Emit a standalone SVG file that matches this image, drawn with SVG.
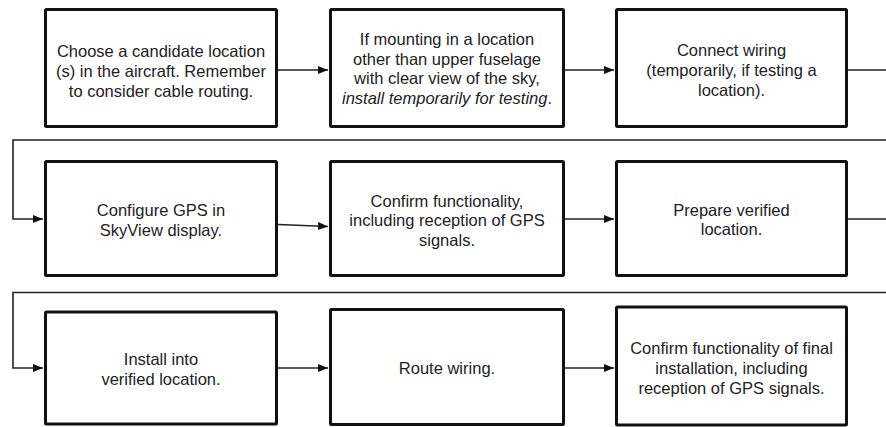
<svg xmlns="http://www.w3.org/2000/svg" width="886" height="427" viewBox="0 0 886 427">
<defs>
<style>
.box{fill:#fff;stroke:#111;stroke-width:3;}
.lbl{font-family:"Liberation Sans",Arial,sans-serif;font-size:16.5px;fill:#222;text-anchor:middle;}
.con{fill:none;stroke:#222;stroke-width:1.6;}
</style>
<marker id="ah" markerUnits="userSpaceOnUse" markerWidth="11" markerHeight="9" refX="10" refY="4" orient="auto">
<path d="M0,0 L10,4 L0,8 z" fill="#111"/>
</marker>
</defs>
<rect width="886" height="427" fill="#fff"/>
<g id="connectors">
<path class="con" d="M278,70 H328" marker-end="url(#ah)"/>
<path class="con" d="M565,70 H614" marker-end="url(#ah)"/>
<path class="con" d="M848,70 H900 V140 H13 V219 H43" marker-end="url(#ah)"/>
<path class="con" d="M278,224.5 L328,226.5" marker-end="url(#ah)"/>
<path class="con" d="M565,219 H614" marker-end="url(#ah)"/>
<path class="con" d="M848,219 H900 V292.5 H13 V368 H43" marker-end="url(#ah)"/>
<path class="con" d="M278,368 H328" marker-end="url(#ah)"/>
<path class="con" d="M565,368 H614" marker-end="url(#ah)"/>
</g>
<g id="n1">
<rect class="box" x="45.5" y="9.5" width="231" height="117" rx="1"/>
<text class="lbl" x="161" y="57">Choose a candidate location</text>
<text class="lbl" x="161" y="77">(s) in the aircraft. Remember</text>
<text class="lbl" x="161" y="97">to consider cable routing.</text>
</g>
<g id="n2">
<rect class="box" x="330.5" y="9.5" width="233" height="117" rx="1"/>
<text class="lbl" x="447" y="45">If mounting in a location</text>
<text class="lbl" x="447" y="64.7">other than upper fuselage</text>
<text class="lbl" x="447" y="84.4">with clear view of the sky,</text>
<text class="lbl" x="447" y="104"><tspan font-style="italic">install temporarily for testing</tspan>.</text>
</g>
<g id="n3">
<rect class="box" x="616.5" y="9.5" width="230" height="117" rx="1"/>
<text class="lbl" x="731.5" y="56">Connect wiring</text>
<text class="lbl" x="731.5" y="76">(temporarily, if testing a</text>
<text class="lbl" x="731.5" y="96">location).</text>
</g>
<g id="n4">
<rect class="box" x="45.5" y="161.5" width="231" height="114" rx="1"/>
<text class="lbl" x="161" y="215.5">Configure GPS in</text>
<text class="lbl" x="161" y="235.5">SkyView display.</text>
</g>
<g id="n5">
<rect class="box" x="330.5" y="161.5" width="233" height="114" rx="1"/>
<text class="lbl" x="447" y="206.5">Confirm functionality,</text>
<text class="lbl" x="447" y="226">including reception of GPS</text>
<text class="lbl" x="447" y="245.5">signals.</text>
</g>
<g id="n6">
<rect class="box" x="616.5" y="161.5" width="230" height="114" rx="1"/>
<text class="lbl" x="731.5" y="215.5">Prepare verified</text>
<text class="lbl" x="731.5" y="235">location.</text>
</g>
<g id="n7">
<rect class="box" x="45.5" y="312" width="231" height="112" rx="1"/>
<text class="lbl" x="161" y="365">Install into</text>
<text class="lbl" x="161" y="385">verified location.</text>
</g>
<g id="n8">
<rect class="box" x="330.5" y="309.5" width="233" height="115" rx="1"/>
<text class="lbl" x="447" y="374">Route wiring.</text>
</g>
<g id="n9">
<rect class="box" x="616.5" y="307" width="230" height="118" rx="1"/>
<text class="lbl" x="731.5" y="354">Confirm functionality of final</text>
<text class="lbl" x="731.5" y="374">installation, including</text>
<text class="lbl" x="731.5" y="394">reception of GPS signals.</text>
</g>
</svg>
